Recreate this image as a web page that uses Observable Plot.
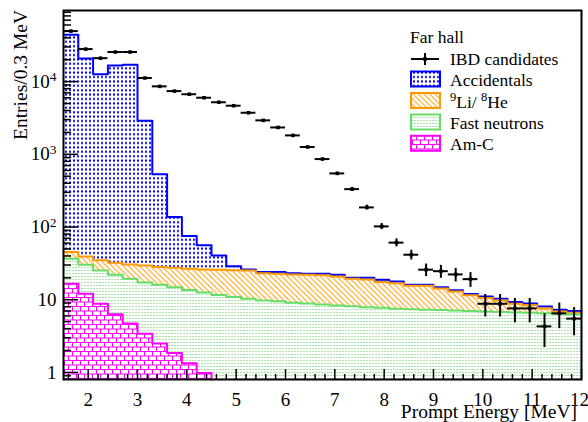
<!DOCTYPE html>
<html><head><meta charset="utf-8">
<script src="https://cdn.jsdelivr.net/npm/d3@7"></script>
<script src="https://cdn.jsdelivr.net/npm/@observablehq/plot@0.6"></script>
<style>
html,body{margin:0;padding:0;background:#fff;}
#chart{width:588px;height:422px;}
</style></head><body>
<svg width="0" height="0" style="position:absolute">
<defs>
<pattern id="pBlue" width="4" height="4.4" patternUnits="userSpaceOnUse"><rect width="4" height="4.4" fill="#fff"/><rect x="1" y="1.2" width="2" height="2" fill="#0000ff"/></pattern>
<pattern id="pOrange" width="5.5" height="5.5" patternUnits="userSpaceOnUse"><rect width="5.5" height="5.5" fill="#fff"/><path d="M-1,-1L6.5,6.5M-1,4.5L1,6.5M4.5,-1L6.5,1" stroke="#ff9900" stroke-width="1"/></pattern>
<pattern id="pGreen" width="3" height="3" patternUnits="userSpaceOnUse"><rect width="3" height="3" fill="#fff"/><rect width="2" height="1" fill="#a8e4a8"/></pattern>
<pattern id="pMagenta" width="8" height="9" patternUnits="userSpaceOnUse"><rect width="8" height="9" fill="#fff"/><path d="M0,0.5H8M0,5H8M0.5,0.5V5M4.5,5V9" stroke="#ff00ff" stroke-width="1"/></pattern>
</defs></svg>
<div id="chart"></div>
<script>
// ---- data ----
const binLow = [1.5,1.8,2.1,2.4,2.7,3.0,3.3,3.6,3.9,4.2,4.5,4.8,5.1,5.4,5.7,6.0,6.3,6.6,6.9,7.2,7.5,7.8,8.1,8.4,8.7,9.0,9.3,9.6,9.9,10.2,10.5,10.8,11.1,11.4,11.7];
const binWidth = 0.3;
const ibdCounts = [49500,28000,21000,25500,25500,11200,8600,7400,6700,6000,5200,4660,3730,2930,2340,1820,1260,860,546,332,186,102,61,41.6,25.9,24.7,22.3,19.2,8.8,8.8,7.6,7.6,4.3,6.5,5.5];
const ibdErrors = [222,167,145,160,160,106,93,86,82,77,72,68,61,54,48,43,35,29,23,18,14,10,7.8,6.4,5.1,5.0,4.7,4.4,3.0,3.0,2.8,2.8,2.1,2.5,2.3];
const amC   = [16.6,12.1,8.8,6.3,4.7,3.4,2.5,1.85,1.34,0.98,0,0,0,0,0,0,0,0,0,0,0,0,0,0,0,0,0,0,0,0,0,0,0,0,0];
const fastN = [20.0,18.2,16.5,15.8,14.8,13.9,13.6,13.05,12.26,11.62,11.6,10.9,10.3,9.8,9.5,9.1,8.9,8.6,8.3,8.15,7.9,7.75,7.5,7.4,7.3,7.2,7.1,7.0,6.9,6.8,6.7,6.6,6.5,6.4,6.3];
const liHe  = [8.6,9.1,9.5,10.2,11.1,12.3,12.0,12.6,13.1,13.5,14.2,14.6,15.0,13.4,13.3,13.2,13.2,13.2,12.6,11.35,11.1,9.75,9.4,8.2,8.3,7.1,5.9,4.5,3.7,3.0,2.1,1.8,1.1,0.5,0.3];
const accid = [44155,20661,12565,16668,17069,2870,502,109.5,48.3,29.9,14.7,3.4,0.8,0.8,1.2,0.9,0.7,1.0,1.1,0.5,1.0,1.4,0.9,0.5,0.5,0.5,0.5,0.5,0.5,0.5,0.5,0.5,0.5,0.4,0.4];
const xTicks = [2,3,4,5,6,7,8,9,10,11,12];
const yTicks = [1,10,100,1000,10000];
const yTickLabels = ["1","10","10^2","10^3","10^4"];
const legendHeader = "Far hall";
const legendLabels = ["IBD candidates","Accidentals","^9Li/ ^8He","Fast neutrons","Am-C"];

// ---- frame settings ----
const W = 588, H = 422, mL = 63, mR = 7, mT = 10, mB = 43;
const plotW = W - mL - mR, plotH = H - mT - mB;
const xMin = 1.5, xMax = 12, yMin = 0.8, yMax = 9.5e4;
const clampY = v => Math.max(v, yMin);
const FONT = "'Liberation Serif', 'Times New Roman', serif";

const stack = binLow.map((lo, i) => {
  const amc = amC[i], fn = amc + fastN[i], li = fn + liHe[i], acc = li + accid[i];
  return {x: lo, amc, fn, li, acc};
});
const edges = [...stack, {...stack[stack.length - 1], x: binLow[binLow.length - 1] + binWidth}];
const nAmc = amC.findLastIndex(v => v > 0) + 2;
const amcEdges = edges.slice(0, nAmc);
const ibd = binLow.map((lo, i) => ({lo, hi: lo + binWidth, c: lo + binWidth / 2, v: ibdCounts[i], e: ibdErrors[i]}));

const yMinor = [];
for (let k = -1; k <= 4; k++) for (let m = 2; m <= 9; m++) { const v = m * 10 ** k; if (v > 0.85 && v < yMax) yMinor.push(v); }
const xMinor = d3.range(1.6, 12, 0.2).filter(v => Math.abs(v - Math.round(v)) > 0.05);

const chart = Plot.plot({
  width: W, height: H, marginLeft: mL, marginRight: mR, marginTop: mT, marginBottom: mB,
  x: {domain: [xMin, xMax]},
  y: {type: "log", domain: [yMin, yMax]},
  style: {fontFamily: FONT, fontSize: "19px", background: "white", color: "black", overflow: "visible"},
  marks: [
    Plot.areaY(edges, {x: "x", y1: d => clampY(d.li), y2: d => clampY(d.acc), curve: "step-after", fill: "url(#pBlue)"}),
    Plot.areaY(edges, {x: "x", y1: d => clampY(d.fn), y2: d => clampY(d.li), curve: "step-after", fill: "url(#pOrange)"}),
    Plot.areaY(edges, {x: "x", y1: d => clampY(d.amc), y2: d => clampY(d.fn), curve: "step-after", fill: "url(#pGreen)"}),
    Plot.areaY(amcEdges, {x: "x", y1: () => yMin, y2: d => clampY(d.amc), curve: "step-after", fill: "url(#pMagenta)"}),
    Plot.line(edges, {x: "x", y: d => clampY(d.acc), curve: "step-after", stroke: "#0000ff", strokeWidth: 2}),
    Plot.line(edges, {x: "x", y: d => clampY(d.li), curve: "step-after", stroke: "#ff9900", strokeWidth: 2}),
    Plot.line(edges, {x: "x", y: d => clampY(d.fn), curve: "step-after", stroke: "#66dd66", strokeWidth: 2}),
    Plot.line(amcEdges, {x: "x", y: d => clampY(d.amc), curve: "step-after", stroke: "#ff00ff", strokeWidth: 2}),
    // ticks pointing inward
    Plot.ruleY(yTicks, {insetRight: plotW - 15, strokeWidth: 1.5}),
    Plot.ruleY(yMinor, {insetRight: plotW - 8, strokeWidth: 1.5}),
    Plot.ruleX(xTicks, {insetTop: plotH - 10, strokeWidth: 1.5}),
    Plot.ruleX(xMinor, {insetTop: plotH - 5, strokeWidth: 1.5}),
    Plot.axisX({ticks: xTicks, tickSize: 0, tickPadding: 13, label: null, fontSize: 19}),
    Plot.axisY({ticks: yTicks, tickSize: 0, tickPadding: 7, label: null, fontSize: 19,
      tickFormat: d => yTickLabels[yTicks.indexOf(d)]}),
    // IBD candidates
    Plot.ruleY(ibd, {x1: "lo", x2: "hi", y: "v", stroke: "black", strokeWidth: 2}),
    Plot.ruleX(ibd, {x: "c", y1: d => clampY(d.v - d.e), y2: d => d.v + d.e, stroke: "black", strokeWidth: 2}),
    Plot.dot(ibd, {x: "c", y: "v", symbol: "square", r: 2, fill: "black"}),
    Plot.frame({stroke: "black", strokeWidth: 2})
  ]
});
document.getElementById("chart").appendChild(chart);

const svg = d3.select(chart);
// superscripts in text
function supText(sel, str, supSize, rise) {
  sel.text(null);
  const parts = str.split(/(\^\d)/);
  let pendingDown = false;
  parts.forEach(p => {
    if (!p) return;
    if (p.startsWith("^")) {
      sel.append("tspan").attr("font-size", supSize).attr("dy", -rise).text(p.slice(1));
      pendingDown = true;
    } else {
      const t = sel.append("tspan").text(p);
      if (pendingDown) { t.attr("dy", rise); pendingDown = false; }
    }
  });
}
svg.selectAll("text").each(function() {
  const s = this.textContent;
  if (s.includes("^")) supText(d3.select(this), s, 13.5, 6.6);
});
// keep the last x label inside the picture, as in the reference
svg.selectAll("[aria-label='x-axis tick label'] text").filter(function() { return this.textContent === "12"; }).attr("dx", -2);

// axis titles
svg.append("text").attr("transform", `translate(27,${mT}) rotate(-90)`)
  .attr("text-anchor", "end").attr("font-size", 19.5).attr("fill", "black").text("Entries/0.3 MeV");
svg.append("text").attr("x", 577).attr("y", 418)
  .attr("text-anchor", "end").attr("font-size", 19.5).attr("fill", "black").text("Prompt Energy [MeV]");

// legend
const lg = svg.append("g").attr("font-size", 17.5).attr("fill", "black").attr("text-anchor", "start");
lg.append("text").attr("x", 410).attr("y", 42.7).text(legendHeader);
const rowY = [65, 86, 107.5, 129, 150.3];
const boxes = [null, ["url(#pBlue)", "#0000ff"], ["url(#pOrange)", "#ff9900"], ["url(#pGreen)", "#66dd66"], ["url(#pMagenta)", "#ff00ff"]];
legendLabels.forEach((lab, i) => {
  const by = rowY[i];
  if (i === 0) {
    lg.append("line").attr("x1", 411).attr("x2", 439).attr("y1", by - 6).attr("y2", by - 6).attr("stroke", "black").attr("stroke-width", 2);
    lg.append("line").attr("x1", 425).attr("x2", 425).attr("y1", by - 12).attr("y2", by).attr("stroke", "black").attr("stroke-width", 2);
    lg.append("rect").attr("x", 423.2).attr("y", by - 7.8).attr("width", 3.6).attr("height", 3.6).attr("fill", "black");
  } else {
    lg.append("rect").attr("x", 411).attr("y", by - 14.5).attr("width", 29).attr("height", 15)
      .attr("fill", boxes[i][0]).attr("stroke", boxes[i][1]).attr("stroke-width", 2);
  }
  const t = lg.append("text").attr("x", 450).attr("y", by);
  if (lab.includes("^")) supText(t, lab, 12.5, 6.5); else t.text(lab);
});
</script>
</body></html>
